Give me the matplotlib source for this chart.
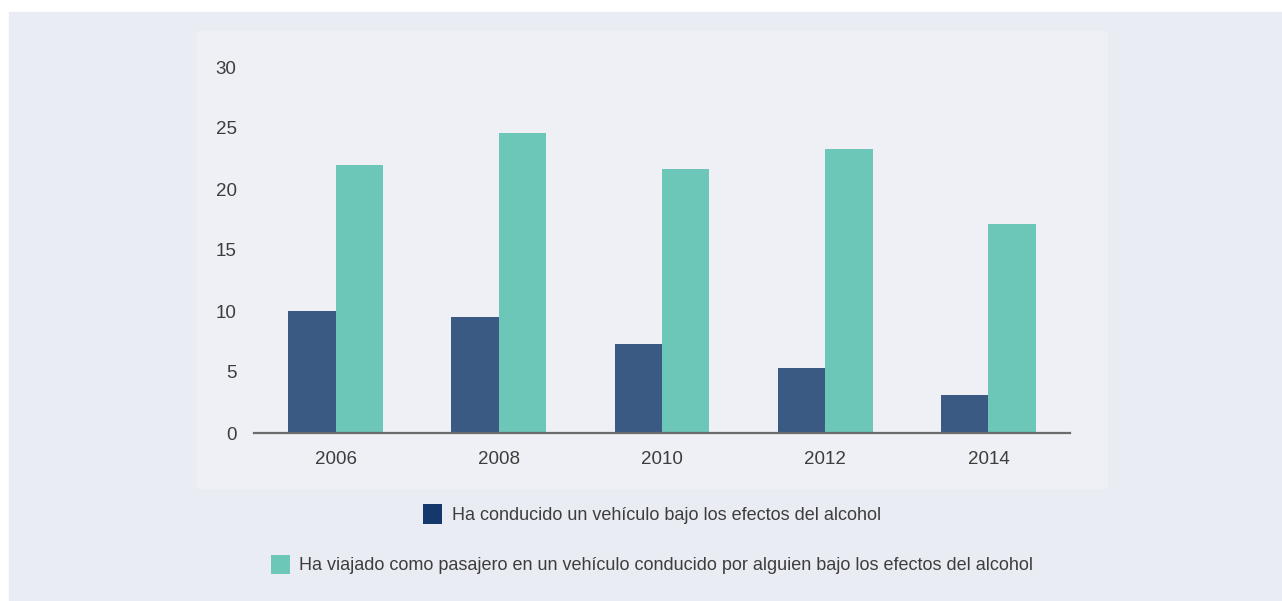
import matplotlib
matplotlib.use("Agg")
import matplotlib.pyplot as plt
import numpy as np
from matplotlib.patches import Rectangle, Patch

# datos (porcentaje)
anios = ["2006", "2008", "2010", "2012", "2014"]
conductor = [10.0, 9.5, 7.3, 5.3, 3.1]
pasajero = [22.0, 24.6, 21.6, 23.3, 17.1]
etiquetas = [
    "Ha conducido un vehículo bajo los efectos del alcohol",
    "Ha viajado como pasajero en un vehículo conducido por alguien bajo los efectos del alcohol",
]

COL_FONDO = "#e9ecf3"
COL_PANEL = "#eef0f5"
COL_OSCURO = "#3b5a83"
COL_OSCURO_LEY = "#14386b"
COL_TEAL = "#6cc7b9"
COL_TEXTO = "#3d3d3d"

plt.rcParams["font.family"] = ["Liberation Sans", "DejaVu Sans"]

W, H = 1282, 601
fig = plt.figure(figsize=(W / 100, H / 100), dpi=100)
fig.patch.set_facecolor("white")

# fondos
fig.patches.append(Rectangle((9 / W, 0), 1 - 9 / W, (H - 12) / H,
                             transform=fig.transFigure, color=COL_FONDO, zorder=-2))
fig.patches.append(Rectangle((197 / W, (H - 488) / H), 910 / W, 457 / H,
                             transform=fig.transFigure, color=COL_PANEL, zorder=-1))

ax = fig.add_axes([254 / W, (H - 433) / H, 816 / W, 366 / H])
ax.set_facecolor("none")

x = np.arange(len(anios))
ancho = 0.29
ax.bar(x - ancho / 2, conductor, ancho, color=COL_OSCURO, zorder=2)
ax.bar(x + ancho / 2, pasajero, ancho, color=COL_TEAL, zorder=2)

ax.set_xlim(-0.5, len(anios) - 0.5)
ax.set_ylim(0, 30)
ax.set_yticks(range(0, 31, 5))
ax.set_xticks(x)
ax.set_xticklabels(anios)
ax.tick_params(axis="both", length=0, labelsize=13.5, colors=COL_TEXTO)
ax.tick_params(axis="y", pad=12.5)
ax.tick_params(axis="x", pad=13)

for lado in ["top", "right", "left"]:
    ax.spines[lado].set_visible(False)
ax.spines["bottom"].set_color("#6b6b6b")
ax.spines["bottom"].set_linewidth(1.6)
ax.spines["bottom"].set_zorder(3)

# leyenda en dos filas centradas
for col, txt, yc in [(COL_OSCURO_LEY, etiquetas[0], 514), (COL_TEAL, etiquetas[1], 564.5)]:
    fig.legend(handles=[Patch(facecolor=col)], labels=[txt],
               loc="center", bbox_to_anchor=(652 / W, (H - yc) / H),
               frameon=False, fontsize=13, labelcolor=COL_TEXTO,
               handlelength=1.05, handleheight=1.3, handletextpad=0.55,
               borderpad=0, borderaxespad=0)

fig.savefig("out.png", dpi=100)
